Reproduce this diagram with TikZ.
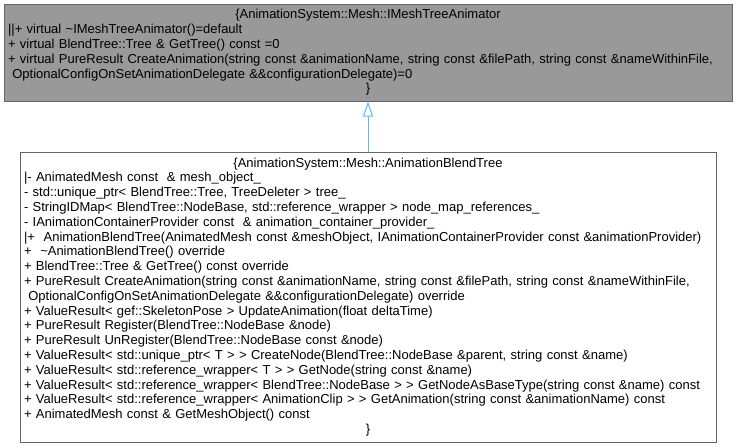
\documentclass[tikz,border=0pt]{standalone}
\usepackage{fontspec}
\setmainfont{Liberation Sans}
\usetikzlibrary{arrows.meta}
\definecolor{grey60}{HTML}{999999}
\definecolor{grey40}{HTML}{666666}
\definecolor{steelblue1}{HTML}{63B8FF}
\begin{document}
\begin{tikzpicture}[x=0.75pt, y=-0.75pt,
  classbox/.style={draw=grey40, line width=0.75pt, rectangle, inner xsep=3pt, inner ysep=0pt,
    font=\fontsize{9.75}{11.1}\selectfont},
  inherit/.style={draw=steelblue1, line width=0.75pt, -{Triangle[open, length=11.25pt, width=7.5pt]}}]
  \useasboundingbox (0,0) rectangle (736,447);
  \node[classbox, fill=grey60, minimum width=546pt, minimum height=72.75pt, text width=540pt] (animator) at (368,52.5)
  {{\centering\{AnimationSystem::Mesh::IMeshTreeAnimator\par}\raggedright
  ||+ virtual \textasciitilde IMeshTreeAnimator()=default\\
  + virtual BlendTree::Tree \& GetTree() const =0\\
  + virtual PureResult CreateAnimation(string const \&animationName, string const \&filePath, string const \&nameWithinFile,\\
  \ OptionalConfigOnSetAnimationDelegate \&\&configurationDelegate)=0\par
  {\centering\}\par}};
  \node[classbox, fill=white, minimum width=522pt, minimum height=217.5pt, text width=516pt] (blendtree) at (368,297)
  {{\centering\{AnimationSystem::Mesh::AnimationBlendTree\par}\raggedright
  |- AnimatedMesh const\ \ \& mesh\_object\_\\
  - std::unique\_ptr< BlendTree::Tree, TreeDeleter > tree\_\\
  - StringIDMap< BlendTree::NodeBase, std::reference\_wrapper > node\_map\_references\_\\
  - IAnimationContainerProvider const\ \ \& animation\_container\_provider\_\\
  |+\ \ AnimationBlendTree(AnimatedMesh const \&meshObject, IAnimationContainerProvider const \&animationProvider)\\
  +\ \ \textasciitilde AnimationBlendTree() override\\
  + BlendTree::Tree \& GetTree() const override\\
  + PureResult CreateAnimation(string const \&animationName, string const \&filePath, string const \&nameWithinFile,\\
  \ OptionalConfigOnSetAnimationDelegate \&\&configurationDelegate) override\\
  + ValueResult< gef::SkeletonPose > UpdateAnimation(float deltaTime)\\
  + PureResult Register(BlendTree::NodeBase \&node)\\
  + PureResult UnRegister(BlendTree::NodeBase const \&node)\\
  + ValueResult< std::unique\_ptr< T > > CreateNode(BlendTree::NodeBase \&parent, string const \&name)\\
  + ValueResult< std::reference\_wrapper< T > > GetNode(string const \&name)\\
  + ValueResult< std::reference\_wrapper< BlendTree::NodeBase > > GetNodeAsBaseType(string const \&name) const\\
  + ValueResult< std::reference\_wrapper< AnimationClip > > GetAnimation(string const \&animationName) const\\
  + AnimatedMesh const \& GetMeshObject() const\par
  {\centering\}\par}};
  \draw[inherit] (blendtree) -- (animator);
\end{tikzpicture}
\end{document}
